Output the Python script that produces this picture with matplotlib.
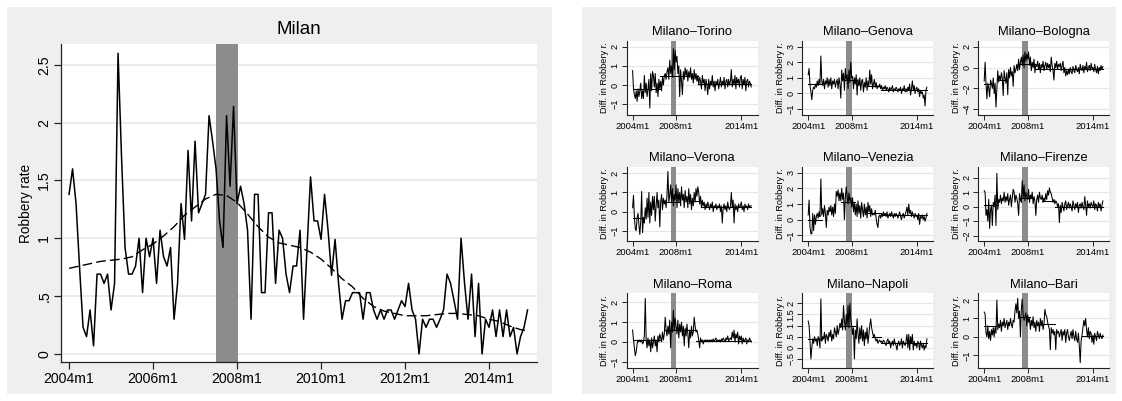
import matplotlib
matplotlib.use('Agg')
import matplotlib.pyplot as plt
from matplotlib.patches import Rectangle
import numpy as np

plt.rcParams['font.family'] = ['Liberation Sans', 'DejaVu Sans']

# ---------------- data ----------------
start_year = 2004
n_months = 132  # 2004m1 .. 2014m12
tick_months = [0, 24, 48, 72, 96, 120]
tick_labels = ['2004m1', '2006m1', '2008m1', '2010m1', '2012m1', '2014m1']
small_tick_months = [0, 48, 120]
small_tick_labels = ['2004m1', '2008m1', '2014m1']
band_start, band_end = 42, 48.2   # 2007m7 .. 2008m1 (shaded)

milan = [
    1.38, 1.60, 1.30, 0.75, 0.23, 0.15, 0.38, 0.07, 0.69, 0.69, 0.61, 0.69,
    0.38, 0.61, 2.60, 1.70, 0.92, 0.69, 0.69, 0.76, 1.00, 0.53, 1.00, 0.84,
    1.00, 0.61, 1.07, 0.84, 0.76, 0.92, 0.30, 0.61, 1.30, 0.99, 1.76, 1.15,
    1.84, 1.22, 1.30, 1.38, 2.06, 1.84, 1.60, 1.15, 0.92, 2.06, 1.45, 2.14,
    1.30, 1.45, 1.30, 1.07, 0.30, 1.38, 1.38, 0.53, 0.53, 1.22, 1.22, 0.61,
    1.07, 1.00, 0.69, 0.53, 0.76, 0.76, 1.07, 0.30, 0.92, 1.53, 1.15, 1.15,
    0.99, 1.38, 1.07, 0.68, 0.99, 0.61, 0.30, 0.46, 0.46, 0.53, 0.53, 0.53,
    0.30, 0.53, 0.53, 0.38, 0.30, 0.38, 0.30, 0.38, 0.38, 0.30, 0.38, 0.46,
    0.41, 0.61, 0.38, 0.30, 0.00, 0.30, 0.23, 0.30, 0.30, 0.23, 0.30, 0.38,
    0.69, 0.61, 0.46, 0.30, 1.00, 0.61, 0.30, 0.69, 0.15, 0.61, 0.00, 0.30,
    0.23, 0.38, 0.15, 0.38, 0.15, 0.38, 0.15, 0.23, 0.00, 0.15, 0.23, 0.38,
]
trend_months = [0, 3, 6, 9, 12, 15, 18, 21, 24, 27, 30, 33, 36, 39, 42, 45, 48,
                51, 54, 57, 60, 63, 66, 69, 72, 75, 78, 81, 84, 87, 90, 93, 96,
                99, 102, 105, 108, 111, 114, 117, 120, 123, 126, 129, 131]
milan_trend = [0.74, 0.76, 0.78, 0.80, 0.81, 0.82, 0.84, 0.90, 0.95, 1.02, 1.10,
               1.20, 1.27, 1.34, 1.38, 1.37, 1.31, 1.21, 1.10, 1.01, 0.96, 0.94,
               0.92, 0.88, 0.82, 0.74, 0.65, 0.58, 0.48, 0.41, 0.37, 0.35, 0.33,
               0.33, 0.33, 0.34, 0.35, 0.35, 0.34, 0.33, 0.30, 0.28, 0.24, 0.21, 0.20]

torino = [
    0.75, -0.2, -0.5, -0.7, -0.3, -0.85, -0.2, -0.6, -0.3, 0.1, -0.7, -0.3,
    -0.7, 0.5, -0.4, 0.1, -0.6, -0.2, 0.3, -1.2, 0.6, -0.3, 0.7, 0.5,
    -0.1, 0.6, -0.4, 0.1, -0.6, 0.3, -0.2, 0.2, -0.3, 0.4, 0.0, 0.5,
    0.6, 0.3, 0.7, 0.9, 0.3, 1.3, 0.6, 1.0, 0.4, 1.9, 0.8, 1.8,
    1.2, 1.5, 0.6, 1.0, -0.6, 0.8, 0.2, -0.5, 0.7, 0.3, 0.9, 0.5,
    0.8, 0.2, 0.7, 0.4, 0.9, 0.3, 0.6, 0.1, 0.8, 0.3, 0.6, 0.2,
    0.5, 0.0, 0.4, 0.2, -0.2, 0.5, 0.1, 0.3, -0.3, 0.3, 0.0, -0.5,
    0.3, -0.2, 0.2, 0.0, 0.5, -0.1, 0.2, -0.3, 0.2, 0.0, 0.3, -0.2,
    0.1, 0.4, -0.1, 0.2, 0.0, 0.4, -0.2, 0.2, 0.3, -0.1, 0.3, 0.0,
    0.2, 0.8, -0.1, 0.3, 0.0, 0.5, -0.2, 0.4, 0.1, 0.3, -0.1, 0.4,
    0.5, -0.2, 0.3, 0.0, 0.4, -0.3, 0.2, 0.3, -0.1, 0.2, 0.1, -0.1,
]
genova = [
    1.2, 1.6, 0.5, 0.1, -0.4, 0.2, 0.4, 0.3, 0.6, 0.4, 0.8, 0.5,
    0.9, 0.6, 2.4, 0.8, 0.5, 0.9, 0.3, 0.8, 0.6, 1.0, 0.4, 0.9,
    0.5, 1.0, 0.3, 0.8, 0.6, 0.9, 0.4, 0.7, 0.9, 0.3, 1.0, 0.6,
    -0.3, 1.5, 0.8, 1.3, 0.2, 1.6, 0.9, 1.2, 0.3, 1.5, 0.7, 2.0,
    1.0, 1.1, 0.3, 1.0, 0.6, 1.2, -0.1, 0.9, 0.5, 1.0, 0.2, 0.8,
    0.9, 0.1, 0.7, 0.4, 1.0, 0.2, 0.8, 0.5, 1.5, 0.6, 1.2, 0.3,
    0.6, 0.9, 0.4, 0.7, 0.3, 0.5, 0.4, 0.6, 0.3, 0.5, 0.2, 0.4,
    0.3, 0.5, 0.2, 0.4, 0.3, 0.1, 0.4, 0.2, 0.3, 0.5, 0.1, 0.3,
    0.2, 0.4, 0.3, 0.1, 0.3, 0.2, 0.4, 0.0, 0.3, 0.2, 0.5, 0.1,
    0.3, 0.1, 0.4, 0.2, 0.6, -0.1, 0.3, 0.8, 0.2, 0.5, 0.0, 0.3,
    0.4, 0.1, 0.3, -0.2, 0.2, 0.0, 0.1, -0.3, -0.1, -0.8, 0.2, 0.4,
]
bologna = [
    -1.3, 0.5, -1.6, -3.0, -1.5, -2.0, -2.8, -1.2, -1.5, -2.0, -1.0, -2.5,
    -1.5, -3.8, -2.0, -0.3, -1.4, -0.8, -1.2, -0.5, -1.0, -2.7, -0.3, -1.0,
    -1.5, -0.5, -2.6, -0.2, -1.0, 0.0, -0.8, -0.4, -1.8, 0.2, -0.5, -0.2,
    0.3, -0.3, 0.8, -0.2, 0.5, 1.0, 0.2, 1.2, 0.0, 1.5, 0.6, 1.3,
    0.8, 1.5, 0.2, 1.0, -0.3, 0.5, 0.0, 0.8, -0.5, 0.3, 0.1, 0.6,
    -0.2, 0.4, -0.5, 0.3, 0.0, 0.6, -0.3, 0.2, 0.5, -0.2, 0.4, 0.0,
    0.3, -0.4, 1.0, 0.2, -0.3, -1.2, 0.4, 0.0, 0.6, -0.2, 0.3, 0.1,
    0.4, -0.3, 0.2, 0.6, -0.5, 0.0, -0.8, -0.3, -0.7, -0.2, -0.6, 0.0,
    -0.4, -0.6, 0.1, -0.3, -0.5, 0.2, -0.2, -0.4, 0.0, -0.6, 0.3, -0.1,
    -0.3, 0.2, -0.5, 0.1, -0.2, 0.5, -0.4, 0.0, 0.2, -0.3, 0.4, -0.1,
    0.0, -0.4, 0.3, -0.2, -0.5, 0.1, -0.6, 0.0, -0.3, 0.2, -0.2, 0.1,
]
verona = [
    0.2, 0.85, -0.3, -0.9, -1.0, -0.3, -0.1, -0.7, -1.2, -0.5, 1.05, -1.1,
    -0.3, -0.6, 0.2, -0.4, 0.7, -0.3, 1.0, -0.6, 0.5, -0.2, 0.8, 0.1,
    0.8, -0.5, 0.3, 1.0, 0.2, 0.6, -0.8, 0.5, 0.9, 0.1, 0.7, 0.4,
    0.6, 0.2, 0.9, 2.1, 0.5, 0.8, 1.4, 0.5, 1.2, 0.3, 0.9, 0.6,
    1.4, 0.2, 1.2, 0.5, 1.0, 0.3, 1.3, 0.6, 0.9, 0.2, 1.1, 0.5,
    0.8, 0.2, 1.2, 0.4, 0.9, 0.1, 0.7, 0.3, 1.0, 0.5, 1.2, 0.8,
    1.3, 1.0, 0.4, 0.8, 0.2, 0.6, 0.3, 0.5, 0.1, 0.4, 0.2, 0.5,
    0.3, 0.1, 0.4, 0.2, 0.5, 0.0, 0.3, 0.2, 0.4, 0.1, 0.3, 0.2,
    0.4, 0.0, 0.3, -0.6, 0.2, 0.4, 0.1, 0.3, 0.0, 0.5, 0.2, 0.1,
    0.3, 1.0, 0.2, 0.6, -0.6, 0.4, 0.1, 0.3, 0.0, 0.4, 0.2, 0.3,
    0.5, 0.1, 0.3, 0.0, 0.4, 0.2, 0.3, 0.1, 0.4, 0.2, 0.3, 0.3,
]
venezia = [
    0.3, 1.25, -0.5, -0.9, -0.9, 0.4, -0.7, 0.3, -0.3, 0.2, 0.4, 0.1,
    0.5, 0.2, 2.6, 0.3, 0.7, 0.2, 0.9, 0.4, -0.5, 0.6, 0.3, 0.8,
    0.5, 0.9, 0.3, 0.8, 0.2, 1.0, 0.4, 1.8, 1.5, 1.9, 1.2, 1.7,
    1.2, 2.0, 1.3, 1.7, 0.0, 1.4, 2.1, 1.5, 1.0, 1.7, 1.2, 1.4,
    0.8, 1.4, 0.5, 1.1, 0.3, 1.0, 0.2, 1.2, 0.4, 0.9, 0.1, 1.1,
    0.6, 0.2, 1.0, 0.3, 0.8, 0.1, 1.1, 0.5, 0.9, 0.2, 0.7, 0.3,
    0.4, 0.3, 0.6, 0.1, -0.3, -0.5, 0.2, 0.3, 0.1, 0.4, 0.2, 0.5,
    0.3, 0.4, 0.2, 0.5, 0.1, 0.3, 0.4, 0.2, 0.5, 0.3, 0.1, 0.4,
    0.2, 0.4, 0.3, 0.1, 0.3, 0.5, 0.2, 0.0, 0.3, 0.4, 0.1, 0.3,
    0.5, 0.8, 0.3, 1.0, 0.4, 0.6, 0.2, 0.5, 0.3, 0.1, 0.4, 0.2,
    0.3, 0.0, 0.4, -0.3, 0.2, 0.1, 0.3, 0.0, 0.2, -0.1, 0.1, 0.4,
]
firenze = [
    1.1, 1.0, -0.6, -0.2, -1.0, 0.5, -1.5, -0.2, 0.1, -1.3, 0.3, 0.0,
    0.8, -1.3, 2.3, -0.2, 0.5, 0.3, 0.8, 0.2, 0.6, 0.4, 1.0, 0.3,
    0.7, 0.4, 0.9, 0.1, 0.5, 0.8, 0.0, 0.6, 1.2, 1.0, 0.3, 0.8,
    0.6, 0.2, -0.6, 0.9, 0.5, 0.3, 1.8, 0.6, 1.5, 0.4, 1.0, 0.7,
    0.5, 1.2, 0.3, 0.8, 0.6, 1.0, 0.2, 0.7, 0.4, -0.6, 0.5, 0.8,
    0.3, 1.0, 0.6, 0.5, 0.8, 0.3, 0.6, 0.4, 0.9, 0.5, 1.1, 0.8,
    1.3, 1.0, 0.9, 0.6, 0.3, 0.5, 0.2, 0.4, 0.3, 0.0, 0.2, -1.1,
    0.1, -0.4, 0.3, 0.0, -0.3, 0.2, 0.4, -0.2, 0.1, 0.3, -0.1, 0.2,
    0.0, -0.3, 0.4, 0.1, -0.2, 0.2, 0.0, 0.3, -0.4, 0.1, 0.2, -0.1,
    0.3, 0.0, -0.2, 0.7, 0.1, -0.6, 0.4, 0.0, 0.2, -0.1, 0.3, 0.1,
    0.0, 0.4, -0.2, 0.2, 0.1, -0.3, 0.3, 0.0, 0.2, -0.3, 0.1, 0.4,
]
roma = [
    0.6, 0.1, -0.3, -0.7, -0.5, -0.1, 0.1, 0.0, 0.1, 0.0, 0.1, -0.1,
    0.0, 0.3, 2.2, 0.1, -0.3, 0.2, -0.2, 0.1, -0.5, 0.2, -0.3, 0.0,
    0.3, -0.2, 0.1, -0.5, 0.3, 0.0, 0.4, 0.2, 0.0, 0.5, 0.1, 0.4,
    1.25, 0.6, 0.3, 0.8, 0.4, 1.1, -0.3, 1.0, 0.5, 1.6, 0.6, 1.2,
    0.8, 0.4, 1.1, 0.2, 0.9, 0.5, 1.0, 0.3, 0.8, -0.2, 0.7, 0.3,
    0.9, 0.4, -0.3, 0.6, 0.2, 0.8, 0.3, 0.5, 1.25, 0.8, 0.5, 0.6,
    0.4, 0.1, -0.3, 0.2, 0.0, 0.1, -0.1, 0.1, 0.0, 0.1, 0.05, 0.1,
    0.0, 0.1, 0.05, 0.1, 0.0, 0.15, 0.05, 0.1, 0.2, 0.0, 0.1, 0.05,
    0.1, 0.0, 0.15, 0.05, 0.2, 0.1, 0.0, 0.2, 0.1, 0.3, 0.05, 0.15,
    0.2, 0.1, 0.5, 0.2, 0.6, 0.0, 0.4, 0.2, 0.5, -0.1, 0.3, 0.1,
    0.3, -0.1, 0.2, 0.0, 0.1, 0.2, -0.1, 0.1, 0.0, 0.2, 0.1, 0.0,
]
napoli = [
    1.2, 1.0, 0.3, -0.5, 0.0, 0.4, 0.2, 0.5, 0.3, 0.4, 0.1, 0.5,
    0.4, 0.0, 2.2, 0.3, 0.5, 0.4, 0.7, 0.2, 0.6, 0.5, 0.3, 0.7,
    0.5, 0.8, 0.3, 0.6, 0.4, 0.9, 0.7, 0.5, 1.0, 0.6, 0.8, 1.1,
    0.9, 1.3, 0.8, 1.9, 1.2, 0.8, 1.5, 1.0, 1.9, 0.9, 2.0, 1.3,
    1.0, 0.6, 0.9, -0.5, 0.8, 0.4, 1.3, 0.6, 0.2, 0.9, 0.4, 1.0,
    0.3, 0.8, 0.1, 0.7, 0.4, 0.9, 0.2, 0.6, 1.0, 1.3, 0.9, 0.7,
    0.5, 0.6, 0.4, 0.3, 0.4, 0.2, 0.3, 0.35, 0.25, 0.3, 0.2, 0.35,
    0.3, 0.2, 0.1, 0.3, 0.4, 0.2, 0.3, 0.0, 0.2, 0.3, 0.1, 0.4,
    0.2, 0.1, -0.1, 0.2, 0.3, 0.1, 0.2, 0.4, 0.0, 0.3, 0.2, 0.1,
    0.3, 0.6, 0.0, 0.6, -0.1, 0.5, 0.2, 0.6, -0.1, 0.3, 0.1, 0.2,
    0.0, 0.3, 0.2, -0.1, 0.3, 0.1, 0.0, 0.2, -0.1, 0.1, 0.0, 0.4,
]
bari = [
    1.35, 1.25, 0.2, 0.0, 0.6, -0.1, 0.3, -0.2, 0.4, 0.1, 0.5, 0.0,
    0.5, 0.2, 2.0, 0.4, 0.7, 0.5, 0.9, 0.3, 0.8, 0.6, 1.0, 0.5,
    0.7, 0.9, 0.4, 0.8, 0.6, 1.0, 0.7, 0.5, 0.9, 0.8, 1.4, 1.8,
    1.3, 2.1, 1.0, 1.4, 0.0, 1.5, 2.05, 1.2, 0.9, 1.1, 1.3, 0.6,
    1.2, 0.8, 1.0, 0.4, 0.9, 0.6, 1.1, 0.5, 0.8, 0.3, 0.9, 0.6,
    0.8, 0.3, 1.0, 0.6, 0.9, 0.4, 0.7, 1.5, 1.2, 1.1, 0.8, 0.6,
    0.4, -0.7, 0.5, 0.2, 0.4, 0.1, 0.3, -0.7, 0.4, 0.2, 0.3, 0.0,
    0.2, 0.4, -0.2, 0.3, 0.1, 0.4, -0.3, 0.2, 0.4, 0.0, -0.2, 0.1,
    0.3, -0.1, 0.4, 0.0, -0.2, 0.3, -0.1, -0.3, 0.2, -0.5, -1.4, -0.2,
    0.1, 0.5, 0.9, 0.6, 1.0, 0.4, 0.0, 0.5, -0.1, 0.3, 0.2, -0.3,
    0.1, -0.4, 0.2, 0.0, -0.2, 0.3, 0.1, -0.1, 0.2, 0.0, -0.1, 0.1,
]

# step-level segments: (first month, last month, level)
torino_steps = [(0, 30, -0.2), (30, 72, 0.45), (72, 131, 0.05)]
genova_steps = [(0, 15, 0.6), (40, 54, 0.85), (66, 80, 0.5), (80, 131, 0.25)]
bologna_steps = [(0, 8, -1.6), (14, 22, -1.2), (40, 56, 0.3), (56, 131, -0.1)]
verona_steps = [(0, 10, -0.35), (37, 52, 0.5), (64, 75, 0.55), (75, 131, 0.25)]
venezia_steps = [(0, 15, -0.05), (36, 52, 1.1), (64, 80, 0.45), (80, 131, 0.3)]
firenze_steps = [(0, 15, 0.1), (38, 54, 0.6), (64, 78, 0.4), (78, 131, 0.0)]
roma_steps = [(0, 30, 0.08), (36, 70, 0.6), (70, 131, 0.05)]
napoli_steps = [(0, 15, 0.4), (36, 52, 1.0), (70, 80, 0.5), (80, 131, 0.2)]
bari_steps = [(0, 13, 0.6), (38, 51, 1.1), (60, 78, 0.7), (108, 131, 0.05)]

panels = [
    ('Milano\u2013Torino', torino, torino_steps, [2, 1, 0, -1], ['2', '1', '0', '\u22121'], (-1.56, 2.31)),
    ('Milano\u2013Genova', genova, genova_steps, [3, 2, 1, 0, -1], ['3', '2', '1', '0', '\u22121'], (-1.38, 3.38)),
    ('Milano\u2013Bologna', bologna, bologna_steps, [2, 0, -2, -4], ['2', '0', '\u22122', '\u22124'], (-4.55, 2.57)),
    ('Milano\u2013Verona', verona, verona_steps, [2, 1, 0, -1], ['2', '1', '0', '\u22121'], (-1.54, 2.35)),
    ('Milano\u2013Venezia', venezia, venezia_steps, [3, 2, 1, 0, -1], ['3', '2', '1', '0', '\u22121'], (-1.36, 3.38)),
    ('Milano\u2013Firenze', firenze, firenze_steps, [2, 1, 0, -1, -2], ['2', '1', '0', '\u22121', '\u22122'], (-2.37, 2.76)),
    ('Milano\u2013Roma', roma, roma_steps, [2, 1, 0, -1], ['2', '1', '0', '\u22121'], (-1.30, 2.46)),
    ('Milano\u2013Napoli', napoli, napoli_steps, [2, 1.5, 1, 0.5, 0, -0.5], ['2', '1.5', '1', '.5', '0', '\u2212.5'], (-0.89, 2.45)),
    ('Milano\u2013Bari', bari, bari_steps, [2, 1, 0, -1], ['2', '1', '0', '\u22121'], (-1.67, 2.37)),
]

# ---------------- figure ----------------
W, H = 1122, 401
fig = plt.figure(figsize=(W / 100, H / 100), dpi=100, facecolor='white')

BG = '#efefef'
BAND = '#8c8c8c'
GRID = '#e6e6e6'


def px_axes(x0, y0, x1, y1):
    return fig.add_axes([x0 / W, 1 - y1 / H, (x1 - x0) / W, (y1 - y0) / H])


def bg_rect(x0, y0, x1, y1):
    fig.add_artist(Rectangle((x0 / W, 1 - y1 / H), (x1 - x0) / W, (y1 - y0) / H,
                             transform=fig.transFigure, facecolor=BG,
                             edgecolor='none', zorder=0))


bg_rect(7, 7, 552, 394)
bg_rect(582, 7, 1116, 394)

months = np.arange(n_months)

# ---- left: Milan ----
ax = px_axes(61, 44, 537, 362)
ax.set_facecolor('white')
ax.set_xlim(-2.3, 133.7)
ax.set_ylim(-0.07, 2.68)
ax.axvspan(band_start, band_end, color=BAND, lw=0, zorder=1)
ax.plot(months, milan, color='black', lw=1.1, zorder=3)
ax.plot(trend_months, milan_trend, color='black', lw=1.0, ls=(0, (7, 3)), zorder=3)
ax.set_yticks([0, 0.5, 1, 1.5, 2, 2.5])
ax.set_yticklabels(['0', '.5', '1', '1.5', '2', '2.5'], rotation=90, va='center',
                   fontsize=10.2)
ax.set_xticks(tick_months)
ax.set_xticklabels(tick_labels, fontsize=10.2)
ax.yaxis.grid(True, color=GRID, lw=1.1, zorder=0)
ax.set_axisbelow(True)
for s in ['top', 'right']:
    ax.spines[s].set_visible(False)
for s in ['left', 'bottom']:
    ax.spines[s].set_color('#222222')
    ax.spines[s].set_linewidth(0.9)
ax.tick_params(axis='both', length=5, width=0.9, color='#222222', pad=2)
ax.set_ylabel('Robbery rate', fontsize=9.8)
ax.yaxis.set_label_coords(-0.059, 0.5)
fig.text(299 / W, 1 - 30 / H, 'Milan', ha='center', va='center', fontsize=13.5)

# ---- right: small multiples ----
col_x = [626.7, 802.3, 978.3]
row_y = [40.7, 166.7, 293.3]
pw, ph = 131, 74.3

for i, (title, series, steps, yt, ytl, ylim) in enumerate(panels):
    r, c = divmod(i, 3)
    x0, y0 = col_x[c], row_y[r]
    a = px_axes(x0, y0, x0 + pw, y0 + ph)
    a.set_facecolor('white')
    a.set_xlim(-6.5, 138.1)
    a.set_ylim(*ylim)
    a.axvspan(band_start, band_end, color=BAND, lw=0, zorder=1)
    a.plot(months, series, color='black', lw=0.75, zorder=3)
    for (m0, m1, lev) in steps:
        a.plot([m0, m1], [lev, lev], color='black', lw=0.75, zorder=3)
    a.set_yticks(yt)
    a.set_yticklabels(ytl, rotation=90, va='center', fontsize=6.6)
    a.set_xticks(small_tick_months)
    a.set_xticklabels(small_tick_labels, fontsize=6.8)
    a.yaxis.grid(True, color=GRID, lw=0.9, zorder=0)
    a.set_axisbelow(True)
    for s in ['top', 'right']:
        a.spines[s].set_visible(False)
    for s in ['left', 'bottom']:
        a.spines[s].set_color('#222222')
        a.spines[s].set_linewidth(0.8)
    a.tick_params(axis='both', length=3.5, width=0.7, color='#222222', pad=1.5)
    a.set_ylabel('Diff. in Robbery r.', fontsize=6.6)
    a.yaxis.set_label_coords(-0.135, 0.5)
    fig.text((x0 + pw / 2) / W, 1 - (y0 - 8.7) / H, title, ha='center', va='center',
             fontsize=9.3)

fig.savefig('out.png', dpi=100, facecolor='white')
